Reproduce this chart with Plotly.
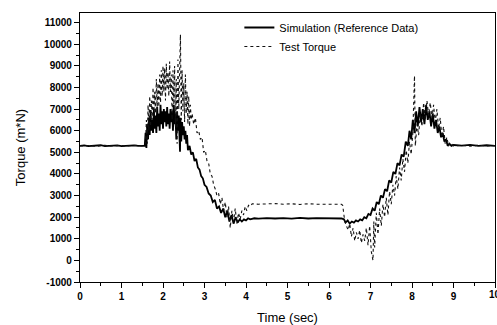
import plotly.graph_objects as go

# Simulation (Reference Data)
sim_t = [0, 0.1, 0.2, 0.3, 0.4, 0.5, 0.6, 0.7, 0.8, 0.9, 1.0, 1.1, 1.2, 1.3, 1.4, 1.5, 1.56,
         1.58, 1.60, 1.62, 1.64, 1.66, 1.68, 1.70, 1.72, 1.74, 1.76, 1.78, 1.80, 1.82, 1.84, 1.86, 1.88,
         1.90, 1.92, 1.94, 1.96, 1.98, 2.00, 2.02, 2.04, 2.06, 2.08, 2.10, 2.12, 2.14, 2.16, 2.18, 2.20,
         2.22, 2.24, 2.26, 2.28, 2.30, 2.32, 2.34, 2.36, 2.38, 2.41, 2.42, 2.44, 2.46, 2.48, 2.50, 2.52,
         2.54, 2.56, 2.58, 2.60, 2.64, 2.68, 2.72, 2.76, 2.80, 2.84, 2.88, 2.92, 2.96, 3.00, 3.05, 3.10,
         3.15, 3.20, 3.25, 3.30, 3.35, 3.40, 3.45, 3.50, 3.55, 3.60, 3.65, 3.70, 3.75, 3.80, 3.85, 3.90,
         3.95, 4.00, 4.05, 4.1, 4.2, 4.3, 4.5, 4.7, 4.9, 5.1, 5.3, 5.5, 5.7, 5.9, 6.1, 6.3, 6.36, 6.4,
         6.45, 6.5, 6.55, 6.6, 6.65, 6.7, 6.75, 6.8, 6.85, 6.9, 6.95, 7.0, 7.05, 7.1, 7.15, 7.2, 7.25,
         7.3, 7.35, 7.4, 7.45, 7.5, 7.55, 7.6, 7.65, 7.7, 7.75, 7.8, 7.85, 7.9, 7.94, 7.98, 8.02, 8.06,
         8.10, 8.14, 8.18, 8.22, 8.26, 8.30, 8.34, 8.38, 8.42, 8.46, 8.50, 8.54, 8.58, 8.62, 8.66, 8.70,
         8.74, 8.78, 8.82, 8.86, 8.9, 8.95, 9.0, 9.2, 9.4, 9.6, 9.8, 10.0]
sim_v = [5300, 5320, 5290, 5310, 5300, 5330, 5290, 5310, 5300, 5320, 5290, 5310, 5300, 5320, 5300, 5310, 5300,
         5900, 5200, 6300, 5600, 6600, 5800, 6900, 6000, 6500, 5900, 7000, 6100, 6700, 5900, 7100, 6200,
         6800, 6000, 7200, 6300, 6900, 6100, 7000, 6400, 6900, 6200, 7100, 6300, 6800, 6100, 7000, 6400,
         6900, 6000, 7200, 6300, 6800, 5600, 6900, 6000, 6700, 5030, 6600, 5500, 6400, 5800, 6200, 5600,
         6000, 5400, 5800, 5100, 5300, 4900, 5000, 4600, 4700, 4300, 4200, 3900, 3800, 3500, 3400, 3100,
         3000, 2700, 2800, 2400, 2500, 2200, 2400, 2000, 2300, 1800, 2100, 1700, 2000, 1750, 1900, 1800,
         1900, 1850, 1950, 1900, 1950, 1930, 1960, 1940, 1960, 1930, 1970, 1940, 1960, 1950, 1960, 1940, 1900, 1750,
         1850, 1700, 1800, 1750, 1850, 1800, 1900, 1850, 2000, 1950, 2150, 2100, 2400, 2300, 2700, 2600, 3000,
         2900, 3300, 3200, 3700, 3600, 4100, 4000, 4500, 4400, 4900, 4800, 5500, 5300, 6000, 5600, 6500, 5900,
         6900, 6200, 7100, 6400, 7000, 6300, 7200, 6500, 6900, 6200, 6800, 6100, 6500, 5900, 6200, 5700,
         5900, 5500, 5600, 5300, 5400, 5300, 5340, 5310, 5350, 5300, 5330, 5300]

# Test Torque
test_t = [0, 0.1, 0.2, 0.3, 0.4, 0.5, 0.6, 0.7, 0.8, 0.9, 1.0, 1.1, 1.2, 1.3, 1.4, 1.5, 1.56,
          1.58, 1.60, 1.62, 1.64, 1.66, 1.68, 1.70, 1.72, 1.74, 1.76, 1.78, 1.80, 1.82, 1.84, 1.86, 1.88,
          1.90, 1.92, 1.94, 1.96, 1.98, 2.00, 2.02, 2.04, 2.06, 2.08, 2.10, 2.12, 2.14, 2.16, 2.18, 2.20,
          2.22, 2.24, 2.26, 2.28, 2.30, 2.32, 2.34, 2.36, 2.38, 2.42, 2.44, 2.46, 2.48, 2.50, 2.52, 2.54,
          2.56, 2.58, 2.60, 2.62, 2.64, 2.66, 2.68, 2.70, 2.74, 2.78, 2.82, 2.86, 2.90, 2.94, 2.98, 3.02,
          3.06, 3.10, 3.14, 3.18, 3.22, 3.26, 3.30, 3.34, 3.38, 3.42, 3.46, 3.50, 3.54, 3.58, 3.62, 3.66,
          3.70, 3.74, 3.78, 3.82, 3.86, 3.90, 3.94, 3.98, 4.02, 4.06, 4.1, 4.15, 4.3, 4.5, 4.7, 4.9, 5.1,
          5.3, 5.5, 5.7, 5.9, 6.1, 6.3, 6.33, 6.36, 6.38, 6.42, 6.46, 6.50, 6.54, 6.58, 6.62, 6.66, 6.70,
          6.74, 6.78, 6.82, 6.86, 6.90, 6.94, 6.98, 7.02, 7.06, 7.08, 7.10, 7.14, 7.18, 7.22, 7.26, 7.30,
          7.34, 7.38, 7.42, 7.46, 7.50, 7.54, 7.58, 7.62, 7.66, 7.70, 7.74, 7.78, 7.82, 7.86, 7.90, 7.94,
          7.98, 8.02, 8.06, 8.08, 8.12, 8.16, 8.20, 8.24, 8.28, 8.32, 8.36, 8.40, 8.44, 8.48, 8.52, 8.56,
          8.60, 8.64, 8.68, 8.72, 8.76, 8.80, 8.84, 8.88, 8.92, 9.0, 9.2, 9.4, 9.6, 9.8, 10.0]
test_v = [5310, 5290, 5320, 5300, 5280, 5310, 5330, 5290, 5310, 5300, 5320, 5290, 5310, 5300, 5330, 5300, 5310,
          5500, 6500, 5400, 7200, 6000, 7600, 6200, 7400, 6500, 8000, 6600, 7800, 6800, 8400, 7000, 8200,
          7100, 8600, 7300, 8800, 7600, 9000, 7800, 8900, 7400, 9100, 7900, 8700, 7600, 9200, 7800, 8600,
          6500, 8800, 7200, 9000, 6200, 8400, 5400, 9300, 7000, 10450, 6500, 8800, 6900, 8200, 6400, 8600,
          6800, 7800, 6300, 7600, 6200, 7200, 6500, 6800, 6300, 6600, 5900, 6000, 5600, 5700, 5000, 5100,
          4600, 4500, 4000, 3900, 3500, 3300, 3000, 3100, 2600, 2900, 2300, 2700, 2000, 2500, 1500, 2300,
          1800, 2400, 1700, 2200, 1900, 2300, 2100, 2500, 2300, 2550, 2500, 2620, 2600, 2610, 2630, 2600, 2620,
          2590, 2620, 2600, 2610, 2590, 2600, 2550, 2100, 1800, 1600, 1400, 1700, 1100, 1500, 900, 1300, 1000,
          1400, 800, 1200, 900, 1500, 700, 1600, 400, 0, 1800, 600, 2200, 1200, 2400, 1600, 2600,
          2000, 2900, 2100, 3200, 2600, 3500, 3000, 3900, 3300, 4300, 3700, 4700, 4100, 5100, 4500, 5500,
          4900, 5900, 8550, 5300, 6300, 5800, 6800, 6200, 7300, 6500, 7400, 6700, 7300, 6600, 7200, 6400,
          7000, 6100, 6600, 5700, 6200, 5400, 5700, 5300, 5450, 5300, 5320, 5290, 5330, 5300, 5320]

x_ticks = [0, 1, 2, 3, 4, 5, 6, 7, 8, 9, 10]
y_ticks = [-1000, 0, 1000, 2000, 3000, 4000, 5000, 6000, 7000, 8000, 9000, 10000, 11000]

fig = go.Figure()
fig.add_trace(go.Scatter(x=sim_t, y=sim_v, mode="lines", name="Simulation (Reference Data)",
                         line=dict(color="#000000", width=1.8)))
fig.add_trace(go.Scatter(x=test_t, y=test_v, mode="lines", name="Test Torque",
                         line=dict(color="#111111", width=1.1, dash="dot")))

axis_common = dict(showgrid=False, zeroline=False, showline=True, linecolor="black", linewidth=1.2,
                   mirror=True, ticks="outside", tickcolor="black", ticklen=5, tickwidth=1,
                   automargin=False,
                   tickfont=dict(family="Arial", size=10, color="black", weight="bold"))

fig.update_layout(
    width=497, height=325,
    margin=dict(l=80, r=2, t=13, b=43),
    paper_bgcolor="white", plot_bgcolor="white",
    font=dict(family="Arial", color="black"),
    showlegend=True,
    legend=dict(x=0.384, y=1.0, xanchor="left", yanchor="top", bgcolor="rgba(0,0,0,0)",
                font=dict(size=11, family="Arial"), tracegroupgap=0, itemwidth=30),
    xaxis=dict(range=[0, 10], tickvals=x_ticks, ticktext=[str(v) for v in x_ticks],
               title=dict(text="Time (sec)", font=dict(size=13)),
               minor=dict(ticks="outside", dtick=0.5, ticklen=3, tickcolor="black"),
               **axis_common),
    yaxis=dict(range=[-1000, 11450], tickvals=y_ticks, ticktext=[str(v) for v in y_ticks],
               title=dict(text="Torque (m*N)", font=dict(size=13)),
               minor=dict(ticks="outside", dtick=500, ticklen=3, tickcolor="black"),
               **axis_common),
)

# last x tick label, partly cut by the right edge as in the reference
fig.add_annotation(x=x_ticks[-1], xref="x", y=0, yref="paper", yanchor="top", yshift=-5,
                   text=str(x_ticks[-1]), showarrow=False,
                   font=dict(family="Arial", size=10, color="black", weight="bold"))

fig.write_html("out.html", config={"displayModeBar": False},
               post_script="document.body.style.margin='0px';document.body.style.overflow='hidden';")
